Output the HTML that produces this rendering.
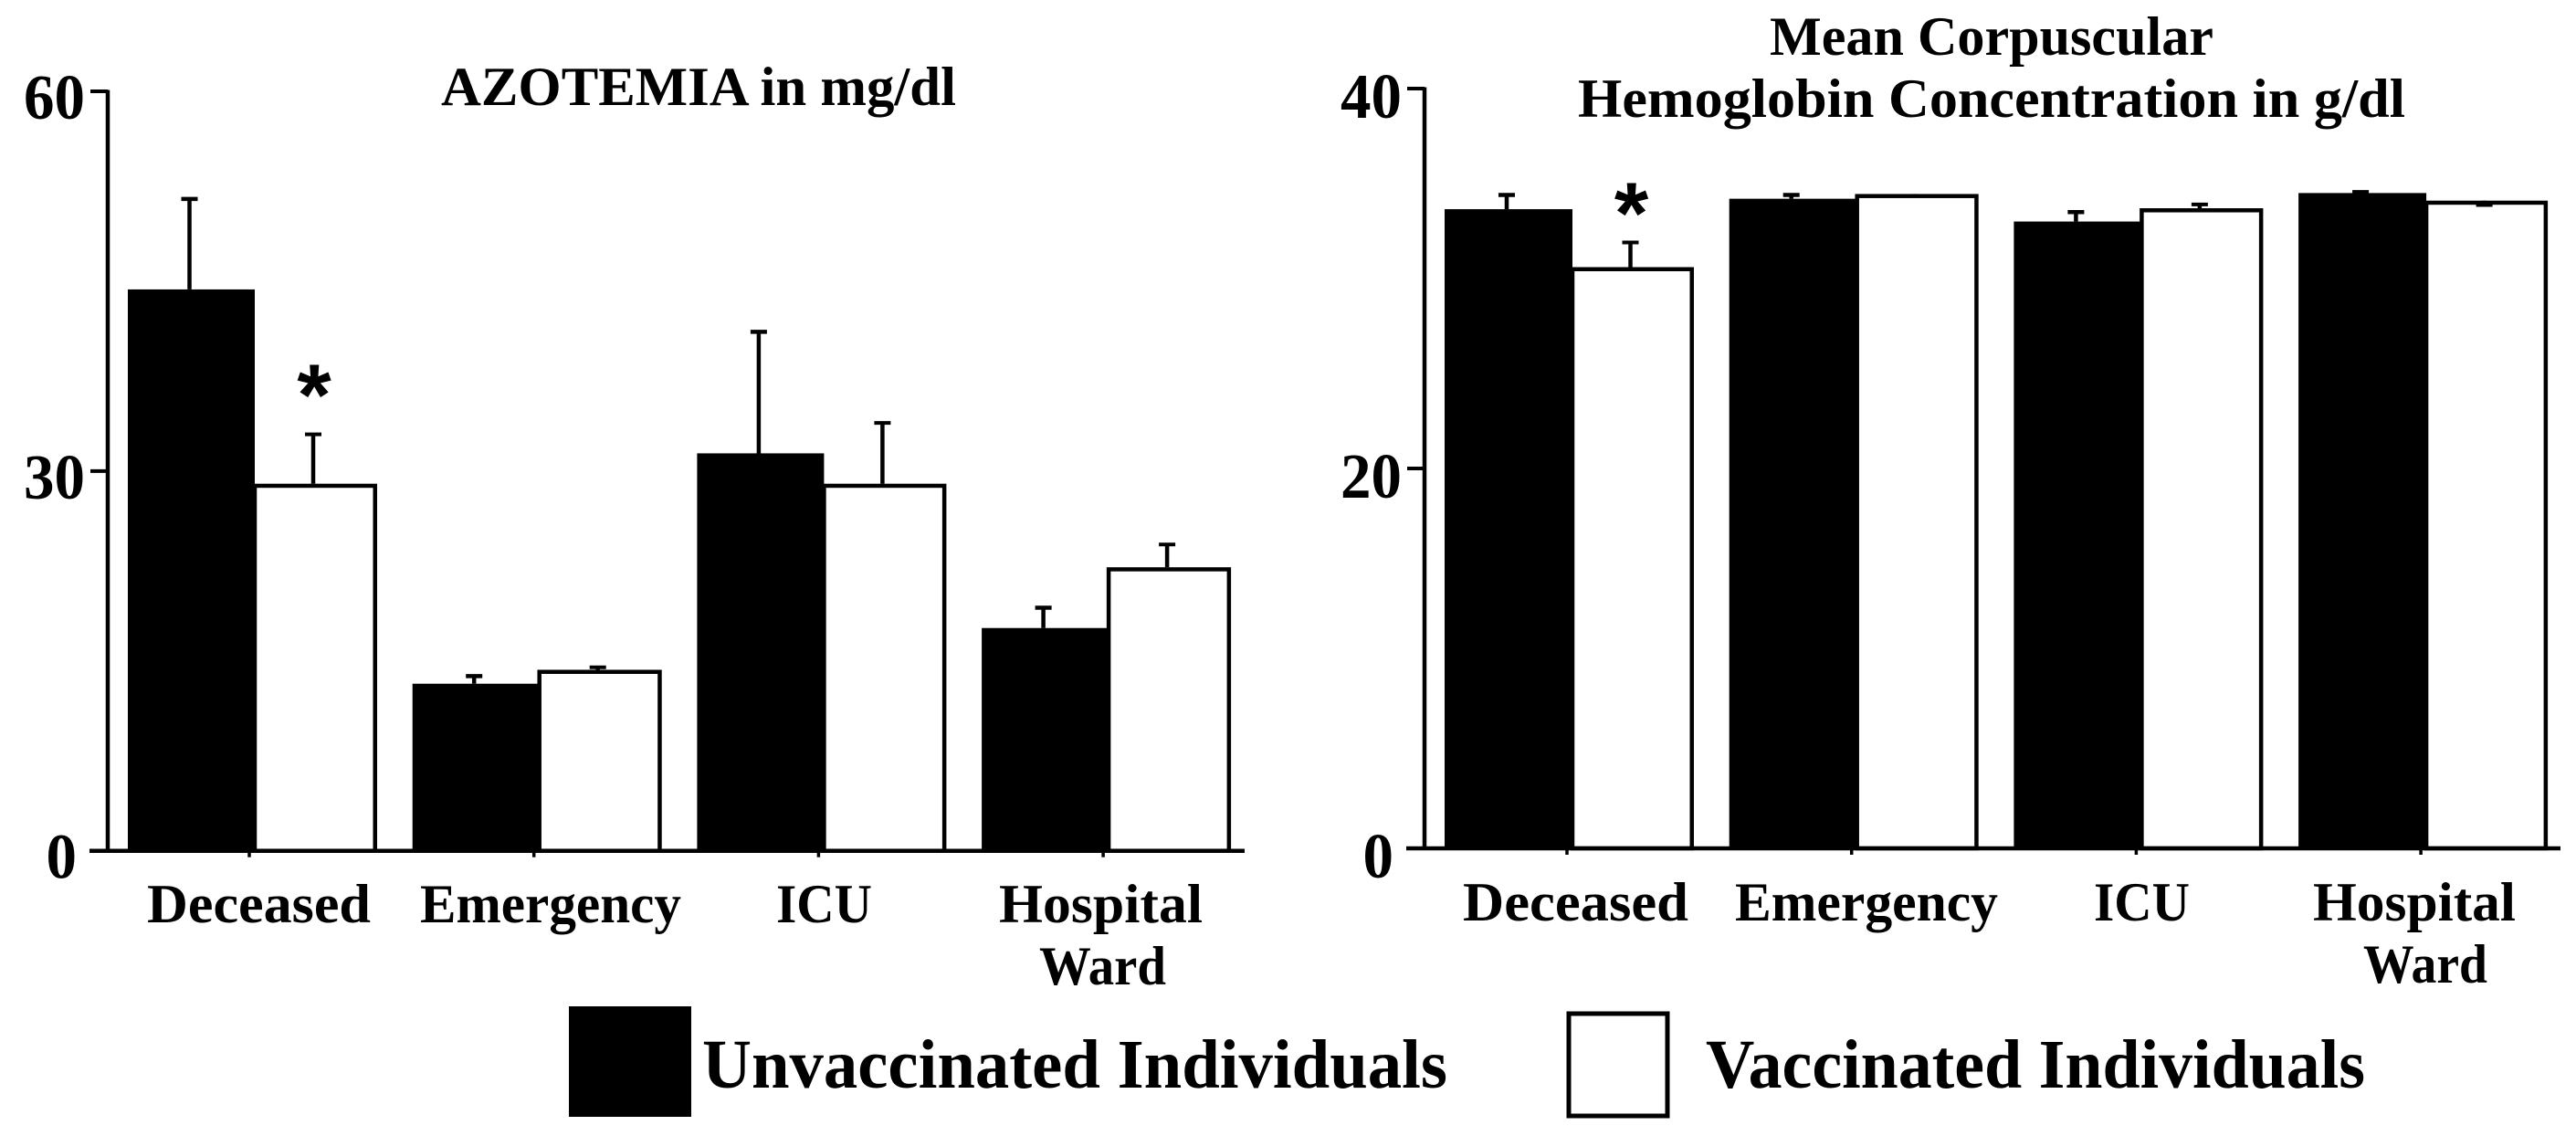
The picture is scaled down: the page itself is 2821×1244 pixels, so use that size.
<!DOCTYPE html>
<html lang="en">
<head>
<meta charset="utf-8">
<title>Azotemia and Mean Corpuscular Hemoglobin Concentration</title>
<style>
html,body{margin:0;padding:0;background:#fff;width:2821px;height:1244px;overflow:hidden}
svg{display:block}
text{font-family:"Liberation Serif",serif;font-weight:700;fill:#000}
</style>
</head>
<body>
<svg id="chart" xmlns="http://www.w3.org/2000/svg" width="2821" height="1244" viewBox="0 0 2821 1244">
  <rect x="0" y="0" width="2821" height="1244" fill="#fff"/>

  <text x="483" y="115" font-size="60" textLength="564" lengthAdjust="spacingAndGlyphs">AZOTEMIA in mg/dl</text>
  <text x="1938" y="60" font-size="60" textLength="486" lengthAdjust="spacingAndGlyphs">Mean Corpuscular</text>
  <text x="1728" y="128" font-size="60" textLength="906" lengthAdjust="spacingAndGlyphs">Hemoglobin Concentration in g/dl</text>

  <g font-size="60">
    <text x="161" y="1010" textLength="245" lengthAdjust="spacingAndGlyphs">Deceased</text>
    <text x="460" y="1010" textLength="286" lengthAdjust="spacingAndGlyphs">Emergency</text>
    <text x="850" y="1010" textLength="105" lengthAdjust="spacingAndGlyphs">ICU</text>
    <text x="1094" y="1010" textLength="223" lengthAdjust="spacingAndGlyphs">Hospital</text>
    <text x="1138" y="1078" textLength="139" lengthAdjust="spacingAndGlyphs">Ward</text>
  </g>
  <g font-size="60">
    <text x="1602" y="1008" textLength="247" lengthAdjust="spacingAndGlyphs">Deceased</text>
    <text x="1900" y="1008" textLength="288" lengthAdjust="spacingAndGlyphs">Emergency</text>
    <text x="2293" y="1008" textLength="105" lengthAdjust="spacingAndGlyphs">ICU</text>
    <text x="2533" y="1008" textLength="222" lengthAdjust="spacingAndGlyphs">Hospital</text>
    <text x="2588" y="1076" textLength="136" lengthAdjust="spacingAndGlyphs">Ward</text>
  </g>

  <g>
    <rect x="623" y="1102" width="134" height="121" fill="#000"/>
    <text x="769" y="1191" font-size="76" textLength="816" lengthAdjust="spacingAndGlyphs">Unvaccinated Individuals</text>
    <rect x="1718" y="1110" width="108" height="112" fill="#fff" stroke="#000" stroke-width="5"/>
    <text x="1868" y="1191" font-size="76" textLength="722" lengthAdjust="spacingAndGlyphs">Vaccinated Individuals</text>
  </g>
</svg>
<script>
var categories = ['Deceased', 'Emergency', 'ICU', 'Hospital Ward'];

var azotemiaTicks = [0, 30, 60];
var azotemiaUnvaccinated = [44.35, 13.2, 31.4, 17.6];
var azotemiaVaccinated = [29.0, 14.3, 29.0, 22.4];
var azotemiaUnvaccinatedErrorTop = [51.5, 13.8, 41.0, 19.2];
var azotemiaVaccinatedErrorTop = [32.9, 14.5, 33.8, 24.2];

var mchcTicks = [0, 20, 40];
var mchcUnvaccinated = [33.65, 34.2, 33.0, 34.5];
var mchcVaccinated = [30.6, 34.45, 33.7, 34.1];
var mchcUnvaccinatedErrorTop = [34.4, 34.4, 33.5, 34.55];
var mchcVaccinatedErrorTop = [31.9, 34.35, 33.9, 33.87];

var svg = document.getElementById('chart');
var NS = 'http://www.w3.org/2000/svg';

function mk(parent, tag, attrs) {
  var el = document.createElementNS(NS, tag);
  for (var k in attrs) { el.setAttribute(k, attrs[k]); }
  parent.appendChild(el);
  return el;
}

function drawPanel(name, cfg) {
  var yScale = function (v) { return cfg.y0 - (v / cfg.yMax) * (cfg.y0 - cfg.yTop); };
  var groupX = function (i) { return cfg.x0 + i * cfg.pitch; };

  var g = mk(svg, 'g', {});
  
  

  categories.forEach(function (cat, i) {
    var slug = cat.toLowerCase().replace(/\s+/g, '-');
    var bx = groupX(i);
    var wx = bx + cfg.blackW;
    var yB = yScale(cfg.unvaccinated[i]);
    var yW = yScale(cfg.vaccinated[i]);
    var yBe = yScale(cfg.unvaccinatedErr[i]);
    var yWe = yScale(cfg.vaccinatedErr[i]);
    var cb = bx + cfg.blackW / 2 - 2;
    var cw = wx + cfg.whiteW / 2 - 3;

    var barW = mk(g, 'rect', { x: wx, y: yW + 2.25, width: cfg.whiteW - 2.25, height: cfg.y0 - yW - 2.25, fill: '#fff', stroke: '#000', 'stroke-width': 4.5 });
    
    
    var barB = mk(g, 'rect', { x: bx, y: yB, width: cfg.blackW, height: cfg.y0 - yB, fill: '#000' });
    
    

    var stemB = mk(g, 'line', { x1: cb, x2: cb, y1: yBe, y2: yB, stroke: '#000', 'stroke-width': 4.5 });
    
    
    var capB = mk(g, 'line', { x1: cb - 9, x2: cb + 9, y1: yBe, y2: yBe, stroke: '#000', 'stroke-width': 4.5 });
    
    

    var stemW = mk(g, 'line', { x1: cw, x2: cw, y1: yWe, y2: yW, stroke: '#000', 'stroke-width': 4.5 });
    
    
    var capW = mk(g, 'line', { x1: cw - 9, x2: cw + 9, y1: yWe, y2: yWe, stroke: '#000', 'stroke-width': 4 });
    
    

    var tx = wx - 6;
    var xt = mk(g, 'line', { x1: tx, x2: tx, y1: cfg.y0, y2: cfg.y0 + 7, stroke: '#000', 'stroke-width': 3.5 });
    
    
  });

  var yAxis = mk(g, 'line', { x1: cfg.axisX, x2: cfg.axisX, y1: yScale(cfg.yMax) - 1.5, y2: cfg.y0 + 2, stroke: '#000', 'stroke-width': 4.5 });
  
  
  var xAxis = mk(g, 'line', { x1: cfg.axisX - 20, x2: cfg.axisEnd, y1: cfg.y0, y2: cfg.y0, stroke: '#000', 'stroke-width': 4.5 });
  
  

  cfg.ticks.forEach(function (t) {
    var y = yScale(t);
    var tick = mk(g, 'line', { x1: cfg.axisX - 19, x2: cfg.axisX, y1: y, y2: y, stroke: '#000', 'stroke-width': 4 });
    
    
    var label = String(t);
    var gap = label.length === 1 ? cfg.labelGap + 9 : cfg.labelGap;
    var lab = mk(g, 'text', { x: cfg.axisX - gap, y: y + cfg.labelDy, 'font-size': 70, 'text-anchor': 'end', textLength: 33.5 * label.length, lengthAdjust: 'spacingAndGlyphs' });
    lab.textContent = label;
    
    
  });

  var star = mk(g, 'text', { x: groupX(0) + cfg.blackW + cfg.whiteW / 2 - 2, y: yScale(cfg.vaccinatedErr[0]) + cfg.starDy, 'font-size': 96, 'text-anchor': 'middle' });
  star.textContent = '*';
  star.style.fontFamily = '"Liberation Sans", sans-serif';
  
  
}

drawPanel('azotemia', {
  x0: 140, pitch: 311.7, blackW: 139, whiteW: 134,
  y0: 931.7, yTop: 100, yMax: 60, axisX: 118, axisEnd: 1363, labelGap: 25, labelDy: 30, starDy: -10,
  ticks: azotemiaTicks,
  unvaccinated: azotemiaUnvaccinated, vaccinated: azotemiaVaccinated,
  unvaccinatedErr: azotemiaUnvaccinatedErrorTop, vaccinatedErr: azotemiaVaccinatedErrorTop
});

drawPanel('mchc', {
  x0: 1582, pitch: 311.7, blackW: 140, whiteW: 133,
  y0: 929, yTop: 97, yMax: 40, axisX: 1560, axisEnd: 2804, labelGap: 25, labelDy: 32, starDy: 1,
  ticks: mchcTicks,
  unvaccinated: mchcUnvaccinated, vaccinated: mchcVaccinated,
  unvaccinatedErr: mchcUnvaccinatedErrorTop, vaccinatedErr: mchcVaccinatedErrorTop
});
</script>
</body>
</html>
